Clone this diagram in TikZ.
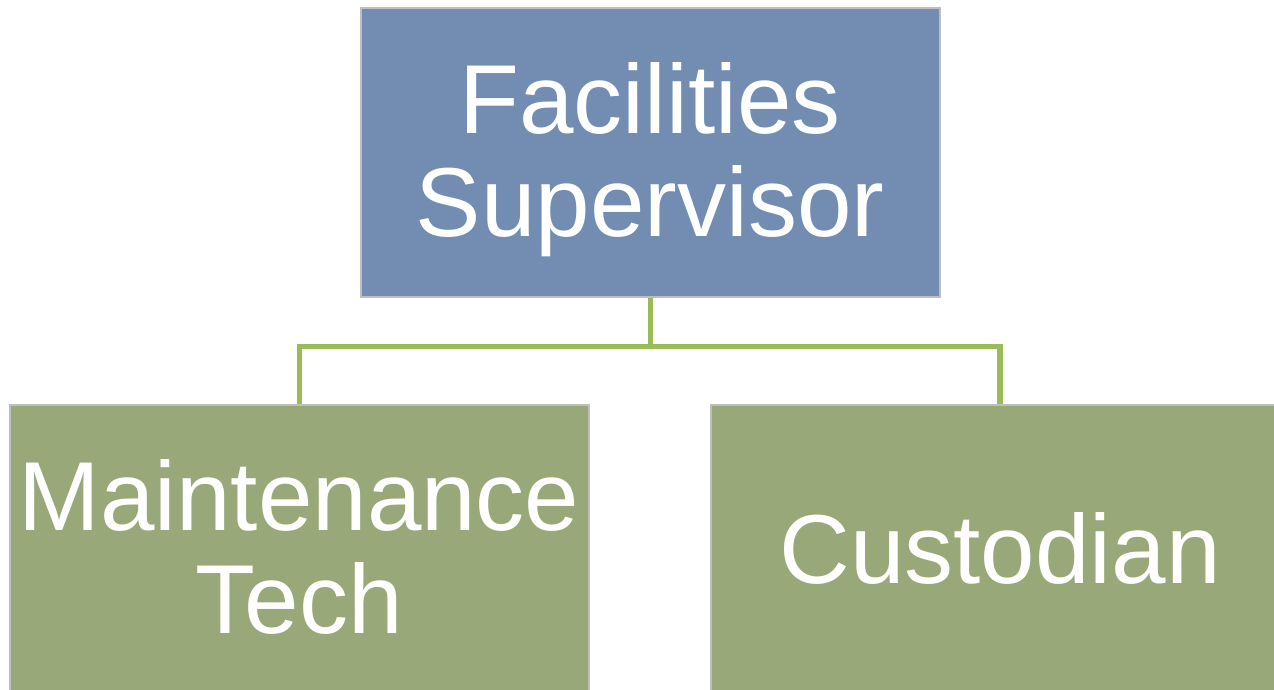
\documentclass[tikz,border=0pt]{standalone}
\usepackage{fontspec}
\setmainfont{Liberation Sans}
\definecolor{boxblue}{RGB}{114,140,178}
\definecolor{boxgreen}{RGB}{152,168,120}
\definecolor{edgegray}{RGB}{190,190,190}
\definecolor{linkgreen}{RGB}{155,187,89}
\begin{document}
\begin{tikzpicture}[x=1pt,y=-1pt,
  box/.style={draw=edgegray,line width=2.5pt,inner sep=0pt,minimum width=#1},
  boxtxt/.style={text=white,inner sep=0pt,anchor=base,font=\fontsize{98}{102}\selectfont},
  link/.style={draw=linkgreen,line width=5.5pt}]
\useasboundingbox (0,0) rectangle (1274,690);
\clip (0,0) rectangle (1274,690);
\node[box=579pt,fill=boxblue,minimum height=289pt] (sup) at (650.5,152.5) {};
\node[box=579pt,fill=boxgreen,minimum height=290pt] (mt) at (299.5,550) {};
\node[box=578pt,fill=boxgreen,minimum height=290pt] (cu) at (1000,550) {};
\draw[link] (sup.south) -- ++(0,48) coordinate (j) -| (mt.north);
\draw[link] (j) -| (cu.north);
\node[boxtxt] (t1) at (650,134) {Facilities};
\node[boxtxt] (t2) at (650,236) {Supervisor};
\node[boxtxt] (t3) at (299,530) {Maintenance};
\node[boxtxt] (t4) at (299,633) {Tech};
\node[boxtxt] (t5) at (1000,583) {Custodian};
\end{tikzpicture}
\end{document}
